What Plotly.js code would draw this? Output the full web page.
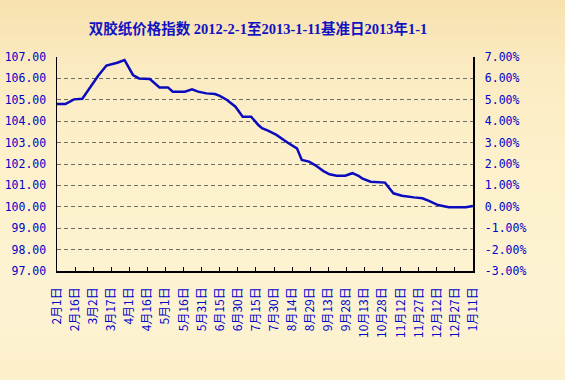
<!DOCTYPE html>
<html>
<head>
<meta charset="utf-8">
<script src="https://cdn.plot.ly/plotly-3.0.1.min.js"></script>
<style>
html,body{margin:0;padding:0;}
body{width:565px;height:380px;background:linear-gradient(180deg,#F7E1AE 0%,#FBEBC2 18%,#FDF1CC 45%,#FDF3D3 80%,#FCEFCB 100%);}
#chart{width:565px;height:380px;}
</style>
</head>
<body>
<div id="chart"></div>
<script>
// Data
const dates = [
  '2012-02-01','2012-02-08','2012-02-15','2012-02-22','2012-03-06','2012-03-13','2012-03-22','2012-03-28',
  '2012-04-04','2012-04-09','2012-04-18','2012-04-26','2012-05-03','2012-05-07','2012-05-17','2012-05-23',
  '2012-05-28','2012-06-04','2012-06-11','2012-06-15','2012-06-21','2012-06-28','2012-07-04','2012-07-11',
  '2012-07-17','2012-07-20','2012-07-25','2012-08-01','2012-08-11','2012-08-18','2012-08-22','2012-08-28',
  '2012-09-02','2012-09-09','2012-09-14','2012-09-20','2012-09-27','2012-10-03','2012-10-08','2012-10-11',
  '2012-10-18','2012-10-30','2012-11-06','2012-11-13','2012-11-23','2012-11-30','2012-12-05','2012-12-13',
  '2012-12-22','2013-01-05','2013-01-11'
];
const indexValues = [
  104.80,104.80,105.02,105.05,106.11,106.60,106.73,106.86,
  106.16,106.00,105.97,105.58,105.58,105.38,105.38,105.49,
  105.38,105.30,105.27,105.18,104.99,104.68,104.21,104.21,
  103.82,103.67,103.56,103.36,102.97,102.73,102.19,102.11,
  101.95,101.67,101.52,101.45,101.45,101.57,101.45,101.33,
  101.17,101.13,100.63,100.52,100.44,100.40,100.29,100.08,
  99.98,99.98,100.04
];
const baseValue = 100;
const tickDates = [
  '2012-02-01','2012-02-16','2012-03-02','2012-03-17','2012-04-01','2012-04-16','2012-05-01','2012-05-16',
  '2012-05-31','2012-06-15','2012-06-30','2012-07-15','2012-07-30','2012-08-14','2012-08-29','2012-09-13',
  '2012-09-28','2012-10-13','2012-10-28','2012-11-12','2012-11-27','2012-12-12','2012-12-27','2013-01-11'
];
const tickLabels = [
  '2月1日','2月16日','3月2日','3月17日','4月1日','4月16日','5月1日','5月16日',
  '5月31日','6月15日','6月30日','7月15日','7月30日','8月14日','8月29日','9月13日',
  '9月28日','10月13日','10月28日','11月12日','11月27日','12月12日','12月27日','1月11日'
];
const leftTicks = [97,98,99,100,101,102,103,104,105,106,107];
const rightTicks = [-3,-2,-1,0,1,2,3,4,5,6,7];
const titleText = '双胶纸价格指数 2012-2-1至2013-1-11基准日2013年1-1';

const blue = '#0000C8';
const pct = indexValues.map(v => v - baseValue);
const rightLabels = rightTicks.map(v => v.toFixed(2) + '%');

const traces = [
  {x: dates, y: indexValues, type: 'scatter', mode: 'lines',
   line: {color: '#0A0ABE', width: 2.5, shape: 'linear'}, hoverinfo: 'x+y'},
  {x: dates, y: pct, type: 'scatter', mode: 'lines', yaxis: 'y2',
   line: {color: 'rgba(0,0,0,0)', width: 0}, hoverinfo: 'skip', showlegend: false}
];

const layout = {
  width: 565, height: 380,
  margin: {l: 57, r: 92, t: 57, b: 109, pad: 0},
  paper_bgcolor: 'rgba(0,0,0,0)',
  plot_bgcolor: 'rgba(0,0,0,0)',
  showlegend: false,
  title: {text: '<b>' + titleText + '</b>', x: (258 - 57) / 416, xanchor: 'center', xref: 'paper',
          y: 1 - 29/380, yanchor: 'middle',
          font: {family: 'Liberation Serif, "Noto Sans CJK SC", serif', size: 14.5, color: '#1212C4'}},
  xaxis: {
    type: 'date', range: ['2012-02-01', '2013-01-11'],
    tickmode: 'array', tickvals: tickDates, ticktext: tickLabels,
    tickangle: -90, ticks: 'inside', ticklen: 4, tickcolor: '#000', tickwidth: 1,
    ticklabelstandoff: 10,
    tickfont: {family: '"Noto Sans CJK SC", sans-serif', size: 12, color: blue},
    showgrid: false, showline: true, linecolor: '#000', linewidth: 1.5, zeroline: false,
    fixedrange: true
  },
  yaxis: {
    range: [97, 107], tickmode: 'array', tickvals: leftTicks,
    tickformat: '.2f', ticks: '', ticklabelstandoff: 7,
    tickfont: {family: '"DejaVu Sans Mono", monospace', size: 11.5, color: blue},
    showgrid: true, gridcolor: '#6e6e66', gridwidth: 1, griddash: '4px,3px',
    showline: true, linecolor: '#000', linewidth: 1.5, zeroline: false, fixedrange: true
  },
  yaxis2: {
    range: [-3, 7], overlaying: 'y', side: 'right', tickmode: 'array', tickvals: rightTicks,
    ticktext: rightLabels, ticks: '', ticklabelstandoff: 8,
    tickfont: {family: '"DejaVu Sans Mono", monospace', size: 11.5, color: blue},
    showgrid: false, showline: true, linecolor: '#000', linewidth: 1.5, zeroline: false,
    fixedrange: true
  }
};

Plotly.newPlot('chart', traces, layout, {displayModeBar: false, staticPlot: true});
</script>
</body>
</html>
